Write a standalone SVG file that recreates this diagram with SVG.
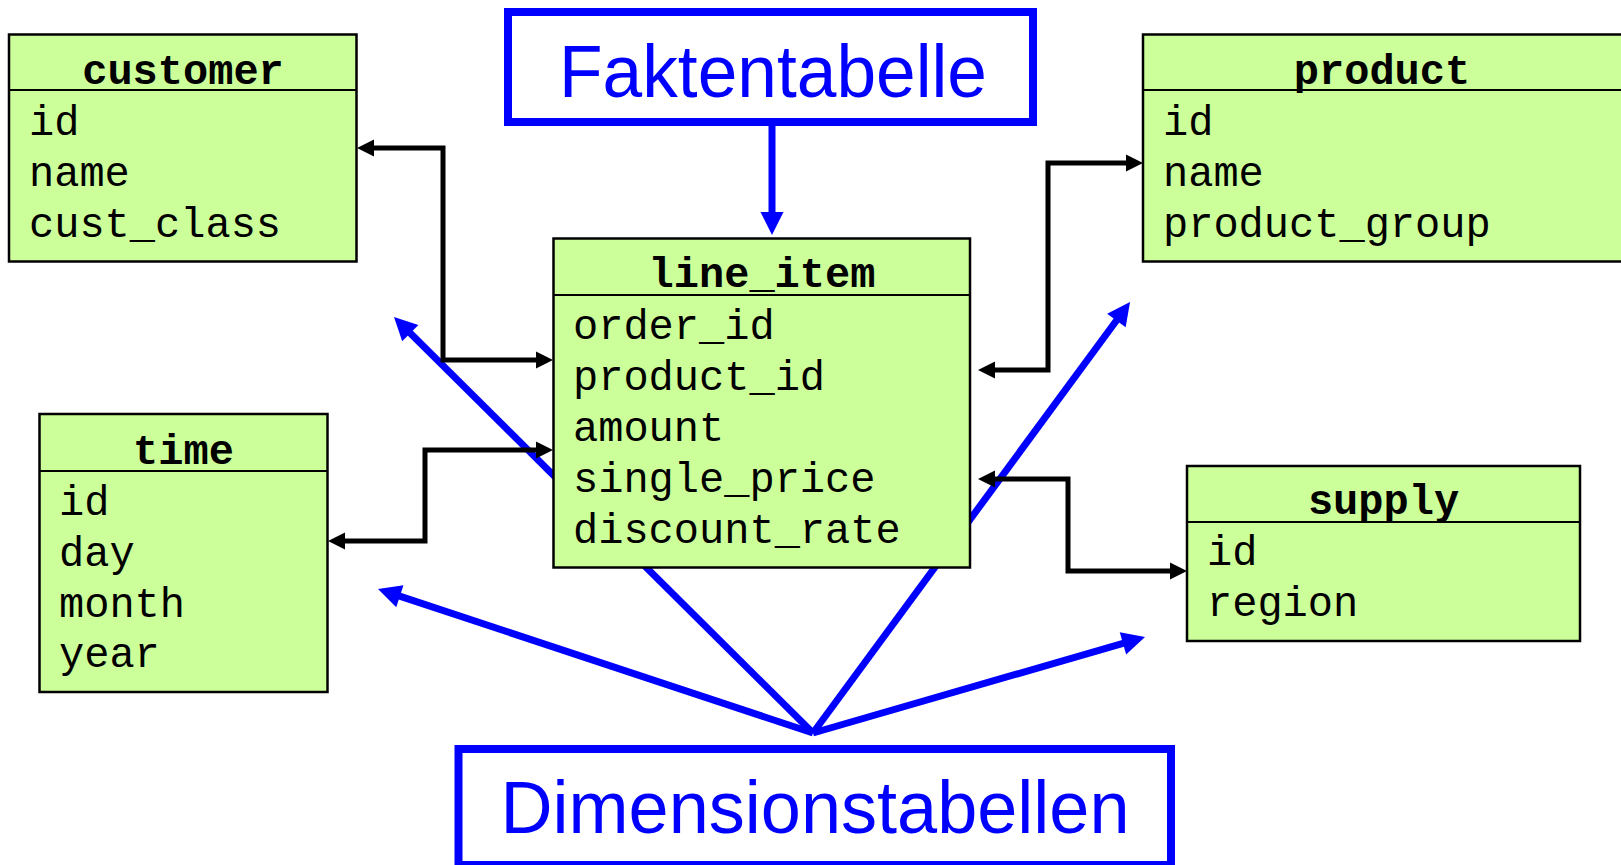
<svg xmlns="http://www.w3.org/2000/svg" width="1621" height="865" viewBox="0 0 1621 865">
  <style>
    .tbl { fill: #CCFF99; stroke: #000; stroke-width: 2.5; }
    .div { stroke: #000; stroke-width: 2; }
    .title { font-family: "Liberation Mono", "Courier New", monospace; font-size: 42px; font-weight: bold; text-anchor: middle; fill: #000; }
    .row { font-family: "Liberation Mono", "Courier New", monospace; font-size: 42px; fill: #000; }
    .label { fill: #fff; stroke: #0000FF; stroke-width: 8; }
    .labeltxt { font-family: "Liberation Sans", Arial, sans-serif; font-size: 75px; fill: #0000FF; text-anchor: middle; }
    .fk { fill: none; stroke: #000; stroke-width: 5; stroke-linejoin: miter; marker-start: url(#blk); marker-end: url(#blk); }
    .ptr { fill: none; stroke: #0000FF; stroke-width: 7; marker-end: url(#blu); }
  </style>
  <defs>
    <marker id="blk" markerUnits="userSpaceOnUse" viewBox="0 -9 18 18" refX="0" refY="0" markerWidth="18" markerHeight="18" orient="auto-start-reverse" overflow="visible">
      <path d="M0,-8.5 L17,0 L0,8.5 Z" fill="#000"/>
    </marker>
    <marker id="blu" markerUnits="userSpaceOnUse" viewBox="0 -12 24 24" refX="0" refY="0" markerWidth="24" markerHeight="24" orient="auto" overflow="visible">
      <path d="M-1,-11.5 L22,0 L-1,11.5 Z" fill="#0000FF"/>
    </marker>
  </defs>

  <!-- pointers from the "Dimensionstabellen" label, drawn behind the tables -->
  <g id="dimension-pointers">
    <path class="ptr" d="M813,733 L409.6,332.5"/>
    <path class="ptr" d="M813,733 L1117,319.7"/>
    <path class="ptr" d="M813,733 L398.9,595.9"/>
    <path class="ptr" d="M813,733 L1123.9,643.1"/>
  </g>

  <g id="customer">
    <rect class="tbl" x="9" y="34.5" width="347.5" height="227"/>
    <line class="div" x1="9" y1="90" x2="356.5" y2="90"/>
    <text class="title" x="183" y="84">customer</text>
    <text class="row" x="29" y="135">id</text>
    <text class="row" x="29" y="186">name</text>
    <text class="row" x="29" y="237">cust_class</text>
  </g>

  <g id="product">
    <rect class="tbl" x="1143" y="34.5" width="482" height="227"/>
    <line class="div" x1="1143" y1="90" x2="1625" y2="90"/>
    <text class="title" x="1382" y="84">product</text>
    <text class="row" x="1163" y="135">id</text>
    <text class="row" x="1163" y="186">name</text>
    <text class="row" x="1163" y="237">product_group</text>
  </g>

  <g id="line_item">
    <rect class="tbl" x="553.5" y="238.5" width="416.5" height="329"/>
    <line class="div" x1="553.5" y1="295" x2="970" y2="295"/>
    <text class="title" x="762" y="287">line_item</text>
    <text class="row" x="573" y="339">order_id</text>
    <text class="row" x="573" y="390">product_id</text>
    <text class="row" x="573" y="441">amount</text>
    <text class="row" x="573" y="492">single_price</text>
    <text class="row" x="573" y="543">discount_rate</text>
  </g>

  <g id="time">
    <rect class="tbl" x="39.5" y="414" width="288" height="278"/>
    <line class="div" x1="39.5" y1="471" x2="327.5" y2="471"/>
    <text class="title" x="183.5" y="464">time</text>
    <text class="row" x="59" y="515">id</text>
    <text class="row" x="59" y="566">day</text>
    <text class="row" x="59" y="617">month</text>
    <text class="row" x="59" y="667">year</text>
  </g>

  <g id="supply">
    <rect class="tbl" x="1187" y="466" width="393" height="175"/>
    <line class="div" x1="1187" y1="522" x2="1580" y2="522"/>
    <text class="title" x="1383.5" y="514">supply</text>
    <text class="row" x="1207" y="565">id</text>
    <text class="row" x="1207" y="616">region</text>
  </g>

  <!-- foreign key links between fact and dimension tables -->
  <g id="foreign-keys">
    <path class="fk" d="M374,148 L443,148 L443,360 L536,360"/>
    <path class="fk" d="M345,541 L425,541 L425,450 L536,450"/>
    <path class="fk" d="M995,370 L1048,370 L1048,163 L1126,163"/>
    <path class="fk" d="M995,479 L1068,479 L1068,571 L1170,571"/>
  </g>

  <g id="faktentabelle">
    <rect class="label" x="508" y="12" width="525" height="110"/>
    <text class="labeltxt" x="773" y="97" textLength="428" lengthAdjust="spacingAndGlyphs">Faktentabelle</text>
  </g>

  <g id="fact-pointer">
    <path class="ptr" d="M772,125 L772,213"/>
  </g>

  <g id="dimensionstabellen">
    <rect class="label" x="458.5" y="749" width="712.5" height="116"/>
    <text class="labeltxt" x="815" y="833" textLength="629" lengthAdjust="spacingAndGlyphs">Dimensionstabellen</text>
  </g>
</svg>
